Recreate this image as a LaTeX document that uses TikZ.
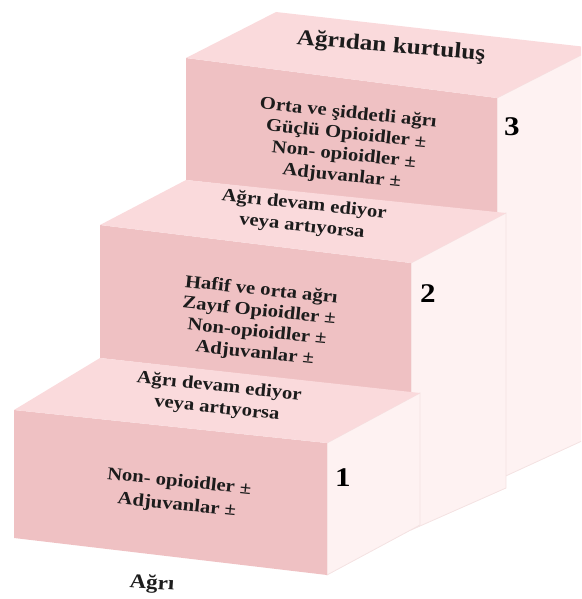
\documentclass[tikz,border=0pt]{standalone}
\usepackage{fontspec}
\setmainfont[FakeStretch=1.15]{Liberation Serif}
\usepackage{tikz}
\usetikzlibrary{calc}
\definecolor{riserPink}{HTML}{EFC1C3}
\definecolor{treadPink}{HTML}{FADADC}
\definecolor{flankPink}{HTML}{FEF2F2}
\definecolor{flankLine}{HTML}{F4E2E2}
\definecolor{inkDark}{HTML}{1C1C1C}
\tikzset{
  riser/.style={fill=riserPink},
  tread/.style={fill=treadPink},
  flank/.style={fill=flankPink, draw=flankLine, line width=0.8pt},
  steptext/.style={font=\fontsize{18}{21}\selectfont\bfseries, text=inkDark,
                   align=center, rotate=-6, inner sep=0pt},
  stepnum/.style={font=\fontsize{27}{27}\selectfont\bfseries, text=black, inner sep=0pt}
}

\begin{document}
\begin{tikzpicture}[x=1pt,y=-1pt]
  \useasboundingbox (0,0) rectangle (581,599);
  \clip (0,0) rectangle (581,599);
  % step 3
  \path[flank] (497,98) -- (595,48) -- (595,435) -- (497,480) -- cycle;
  \path[riser] (186,58) -- (497,98) -- (497,214) -- (186,180) -- cycle;
  \path[tread] (186,58) -- (497,98) -- (595,48) -- (276,12) -- cycle;
  % step 2
  \path[flank] (411,263) -- (506,213) -- (506,488) -- (411,530) -- cycle;
  \path[riser] (100,225) -- (411,263) -- (411,393) -- (100,358) -- cycle;
  \path[tread] (100,225) -- (411,263) -- (506,213) -- (186,180) -- cycle;
  % step 1
  \path[flank] (327,443) -- (420,393) -- (420,525) -- (327,575) -- cycle;
  \path[riser] (14,410) -- (327,443) -- (327,575) -- (14,538) -- cycle;
  \path[tread] (14,410) -- (327,443) -- (420,393) -- (100,358) -- cycle;

  \node[steptext, font=\fontsize{22}{24}\selectfont\bfseries, rotate=1] (relief) at (391,47)
    {Ağrıdan kurtuluş};
  \node[steptext] (strong) at (345,145)
    {Orta ve şiddetli ağrı\\Güçlü Opioidler ±\\Non- opioidler ±\\Adjuvanlar ±};
  \node[steptext, font=\fontsize{18}{22}\selectfont\bfseries] (goon2) at (303,216)
    {Ağrı devam ediyor\\veya artıyorsa};
  \node[steptext] (weak) at (258,322)
    {Hafif ve orta ağrı\\Zayıf Opioidler ±\\Non-opioidler ±\\Adjuvanlar ±};
  \node[steptext, font=\fontsize{18}{22}\selectfont\bfseries] (goon1) at (218,398)
    {Ağrı devam ediyor\\veya artıyorsa};
  \node[steptext, font=\fontsize{18}{23}\selectfont\bfseries] (mild) at (178,494)
    {Non- opioidler ±\\Adjuvanlar ±};
  \node[steptext, font=\fontsize{20}{22}\selectfont\bfseries, rotate=2] (pain) at (152,584) {Ağrı};

  \node[stepnum] (n3) at (512,127) {3};
  \node[stepnum] (n2) at (428,294) {2};
  \node[stepnum] (n1) at (343,478) {1};
\end{tikzpicture}
\end{document}
